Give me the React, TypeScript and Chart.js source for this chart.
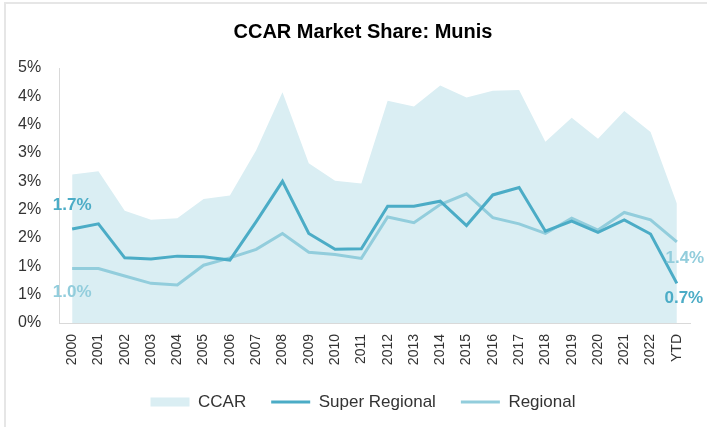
import React, { useEffect, useRef } from "react";
import { Chart, registerables } from "chart.js";

Chart.register(...registerables);

const categories = [
  "2000", "2001", "2002", "2003", "2004", "2005", "2006", "2007", "2008", "2009",
  "2010", "2011", "2012", "2013", "2014", "2015", "2016", "2017", "2018", "2019",
  "2020", "2021", "2022", "YTD",
];

// values in percent
const ccar = [2.62, 2.68, 1.98, 1.82, 1.85, 2.19, 2.25, 3.05, 4.07, 2.82, 2.51, 2.46, 3.92, 3.82, 4.19, 3.98, 4.10, 4.11, 3.20, 3.62, 3.25, 3.74, 3.37, 2.11];
const superRegional = [1.66, 1.75, 1.15, 1.13, 1.18, 1.17, 1.11, 1.79, 2.50, 1.58, 1.30, 1.31, 2.06, 2.06, 2.15, 1.72, 2.26, 2.39, 1.62, 1.80, 1.60, 1.82, 1.57, 0.70];
const regional = [0.96, 0.96, 0.83, 0.70, 0.67, 1.02, 1.15, 1.30, 1.58, 1.25, 1.21, 1.14, 1.87, 1.77, 2.09, 2.28, 1.86, 1.75, 1.58, 1.85, 1.64, 1.95, 1.82, 1.43];

const yMin = 0;
const yMax = 4.5;
const yStep = 0.5;

const seriesNames = ["CCAR", "Super Regional", "Regional"];
const COLOR_CCAR = "#daeef3";
const COLOR_SR = "#4bacc6";
const COLOR_REG = "#92cddc";

const FONT = '"Liberation Sans", Arial, Helvetica, sans-serif';

// end labels: dataset index, point index, offsets
const endLabels = [
  { ds: 1, idx: 0, dx: 0, dy: -24, color: COLOR_SR },
  { ds: 2, idx: 0, dx: 0, dy: 24, color: COLOR_REG },
  { ds: 2, idx: categories.length - 1, dx: 8, dy: 16, color: COLOR_REG },
  { ds: 1, idx: categories.length - 1, dx: 7, dy: 15, color: COLOR_SR },
];

const endLabelPlugin = {
  id: "endLabels",
  afterDatasetsDraw(chart: any) {
    const ctx = chart.ctx;
    ctx.save();
    ctx.font = `bold 17px ${FONT}`;
    ctx.textAlign = "center";
    ctx.textBaseline = "middle";
    for (const l of endLabels) {
      const meta = chart.getDatasetMeta(l.ds);
      const el = meta.data[l.idx];
      const v = chart.data.datasets[l.ds].data[l.idx] as number;
      ctx.fillStyle = l.color;
      ctx.fillText(`${v.toFixed(1)}%`, el.x + l.dx, el.y + l.dy);
    }
    ctx.restore();
  },
};

export default function App() {
  const ref = useRef<HTMLCanvasElement | null>(null);

  useEffect(() => {
    if (!ref.current) return;
    const chart = new Chart(ref.current, {
      type: "line",
      data: {
        labels: categories,
        datasets: [
          {
            label: seriesNames[0],
            data: ccar,
            backgroundColor: COLOR_CCAR,
            borderColor: COLOR_CCAR,
            borderWidth: 0,
            fill: "origin",
            pointRadius: 0,
            pointStyle: "rect",
            tension: 0,
            order: 3,
          },
          {
            label: seriesNames[1],
            data: superRegional,
            borderColor: COLOR_SR,
            backgroundColor: COLOR_SR,
            borderWidth: 3,
            fill: false,
            pointRadius: 0,
            pointStyle: "line",
            tension: 0,
            order: 1,
          },
          {
            label: seriesNames[2],
            data: regional,
            borderColor: COLOR_REG,
            backgroundColor: COLOR_REG,
            borderWidth: 3,
            fill: false,
            pointRadius: 0,
            pointStyle: "line",
            tension: 0,
            order: 2,
          },
        ],
      },
      options: {
        animation: false,
        responsive: false,
        maintainAspectRatio: false,
        devicePixelRatio: 1,
        layout: { padding: { left: 36, right: 17, top: 0, bottom: 6.5 } },
        plugins: {
          title: {
            display: true,
            text: "CCAR Market Share: Munis",
            color: "#000000",
            font: { family: FONT, size: 20, weight: "bold" },
            padding: { top: 20, bottom: 24 },
          },
          legend: {
            display: true,
            position: "bottom",
            labels: {
              usePointStyle: true,
              pointStyleWidth: 39,
              boxHeight: 9,
              padding: 25,
              color: "#333333",
              font: { family: FONT, size: 17 },
              sort: (a: any, b: any) => a.datasetIndex - b.datasetIndex,
            },
          },
          tooltip: { enabled: false },
        },
        scales: {
          x: {
            type: "category",
            offset: true,
            grid: { display: false },
            border: { display: true, color: "#d9d9d9", width: 1 },
            ticks: {
              color: "#333333",
              font: { family: FONT, size: 14 },
              minRotation: 90,
              maxRotation: 90,
              padding: 3,
              autoSkip: false,
            },
            afterFit(scale: any) {
              scale.height = 45.5;
            },
          },
          y: {
            min: yMin,
            max: yMax,
            grid: { display: false },
            border: { display: true, color: "#d9d9d9", width: 1 },
            ticks: {
              stepSize: yStep,
              color: "#333333",
              font: { family: FONT, size: 16 },
              mirror: true,
              padding: -41,
              callback: (v: any) => `${Math.round(Number(v) + 1e-9)}%`,
            },
            afterFit(scale: any) {
              scale.width = 23;
            },
          },
        },
      },
      plugins: [endLabelPlugin],
    });
    return () => chart.destroy();
  }, []);

  return (
    <div
      style={{
        position: "fixed",
        left: 0,
        top: 0,
        width: 707,
        height: 427,
        overflow: "hidden",
        background: "#ffffff",
      }}
    >
      <div
        style={{
          position: "absolute",
          left: 4,
          top: 2,
          width: 760,
          height: 480,
          borderLeft: "2px solid #e6e6e6",
          borderTop: "2px solid #e6e6e6",
        }}
      />
      <canvas
        ref={ref}
        width={707}
        height={427}
        style={{ position: "absolute", left: 0, top: 0, width: 707, height: 427 }}
      />
    </div>
  );
}
